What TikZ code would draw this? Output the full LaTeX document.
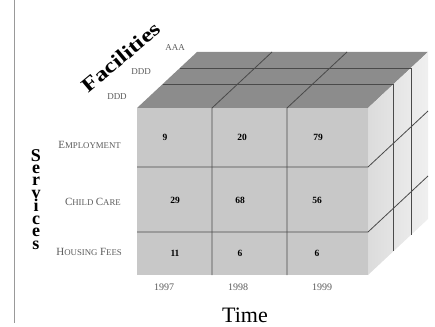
\documentclass[tikz,border=0pt]{standalone}
\usepackage{fontspec}
\setmainfont{Liberation Serif}
\definecolor{topgray}{HTML}{8C8C8C}
\definecolor{frontgray}{HTML}{C8C8C8}
\definecolor{linegray}{HTML}{4A4A4A}
\definecolor{labgray}{HTML}{5A5A5A}
% fake small caps: big first letter, small rest
\newcommand{\fsc}[2]{{\fontsize{11}{11}\selectfont#1}{\fontsize{8.8}{9}\selectfont#2}}
\begin{document}
\begin{tikzpicture}[x=1pt,y=-1pt,every node/.style={inner sep=0pt},
		gridline/.style={draw=linegray,line width=.8pt},
		rowlab/.style={anchor=east,text=labgray},
		deplab/.style={text=labgray,font=\fontsize{9}{10}\selectfont},
		cell/.style={anchor=center,font=\fontsize{9.5}{9.5}\selectfont\bfseries},
		year/.style={anchor=center,text=labgray,font=\fontsize{10}{10}\selectfont}]
	\useasboundingbox (0,0) rectangle (435,326);
	\draw[black!40,line width=1pt] (14,0) -- (14,323);
	% cube corners
	\coordinate (fl) at (137,108);
	\coordinate (fr) at (368,108);
	\coordinate (br) at (428,52);
	\coordinate (bl) at (197,52);
	\coordinate (dr) at (368,275);
	\coordinate (dbr) at (428,219);
	% faces
	\fill[topgray] (fl) -- (fr) -- (br) -- (bl) -- cycle;
	\shade[left color=black!14,right color=black!6] (fr) -- (br) -- (dbr) -- (dr) -- cycle;
	\fill[frontgray] (fl) rectangle (dr);
	% depth planes
	\draw[gridline] (162.7,84) -- (393.7,84) -- (393.7,251);
	\draw[gridline] (179.9,68) -- (410.9,68) -- (410.9,235);
	% columns
	\draw[gridline] (212,275) -- (212,108) -- (272,52);
	\draw[gridline] (287,275) -- (287,108) -- (347,52);
	% rows
	\draw[gridline] (137,167) -- (368,167) -- (428,111);
	\draw[gridline] (137,232) -- (368,232) -- (428,176);
	% values
	\node[cell] (v11) at (165,137) {9};
	\node[cell] (v12) at (242,137) {20};
	\node[cell] (v13) at (318,137) {79};
	\node[cell] (v21) at (175,200) {29};
	\node[cell] (v22) at (240,200) {68};
	\node[cell] (v23) at (317,200) {56};
	\node[cell] (v31) at (175,253) {11};
	\node[cell] (v32) at (240,253) {6};
	\node[cell] (v33) at (317,253) {6};
	% row labels
	\node[rowlab] (employ) at (121,145) {\fsc{E}{MPLOYMENT}};
	\node[rowlab] (child) at (121,202) {\fsc{C}{HILD} \fsc{C}{ARE}};
	\node[rowlab] (housing) at (122,252) {\fsc{H}{OUSING} \fsc{F}{EES}};
	\node[anchor=north,align=center,font=\fontsize{18}{12.4}\selectfont\bfseries] (services) at (36,149)
		{S\\e\\r\\v\\i\\c\\e\\s};
	% depth labels
	\node[deplab] (aaa) at (175,48) {AAA};
	\node[deplab] (ddd1) at (141,72) {DDD};
	\node[deplab] (ddd2) at (117,97) {DDD};
	\node[rotate=40,font=\fontsize{20}{20}\selectfont\bfseries] (facil) at (121,57)
		{\scalebox{1.25}[1]{Facilities}};
	% time axis
	\node[year] (y97) at (164,287) {1997};
	\node[year] (y98) at (238,287) {1998};
	\node[year] (y99) at (322,287) {1999};
	\node[anchor=base,font=\fontsize{22}{22}\selectfont] (time) at (245,322) {Time};
\end{tikzpicture}
\end{document}
